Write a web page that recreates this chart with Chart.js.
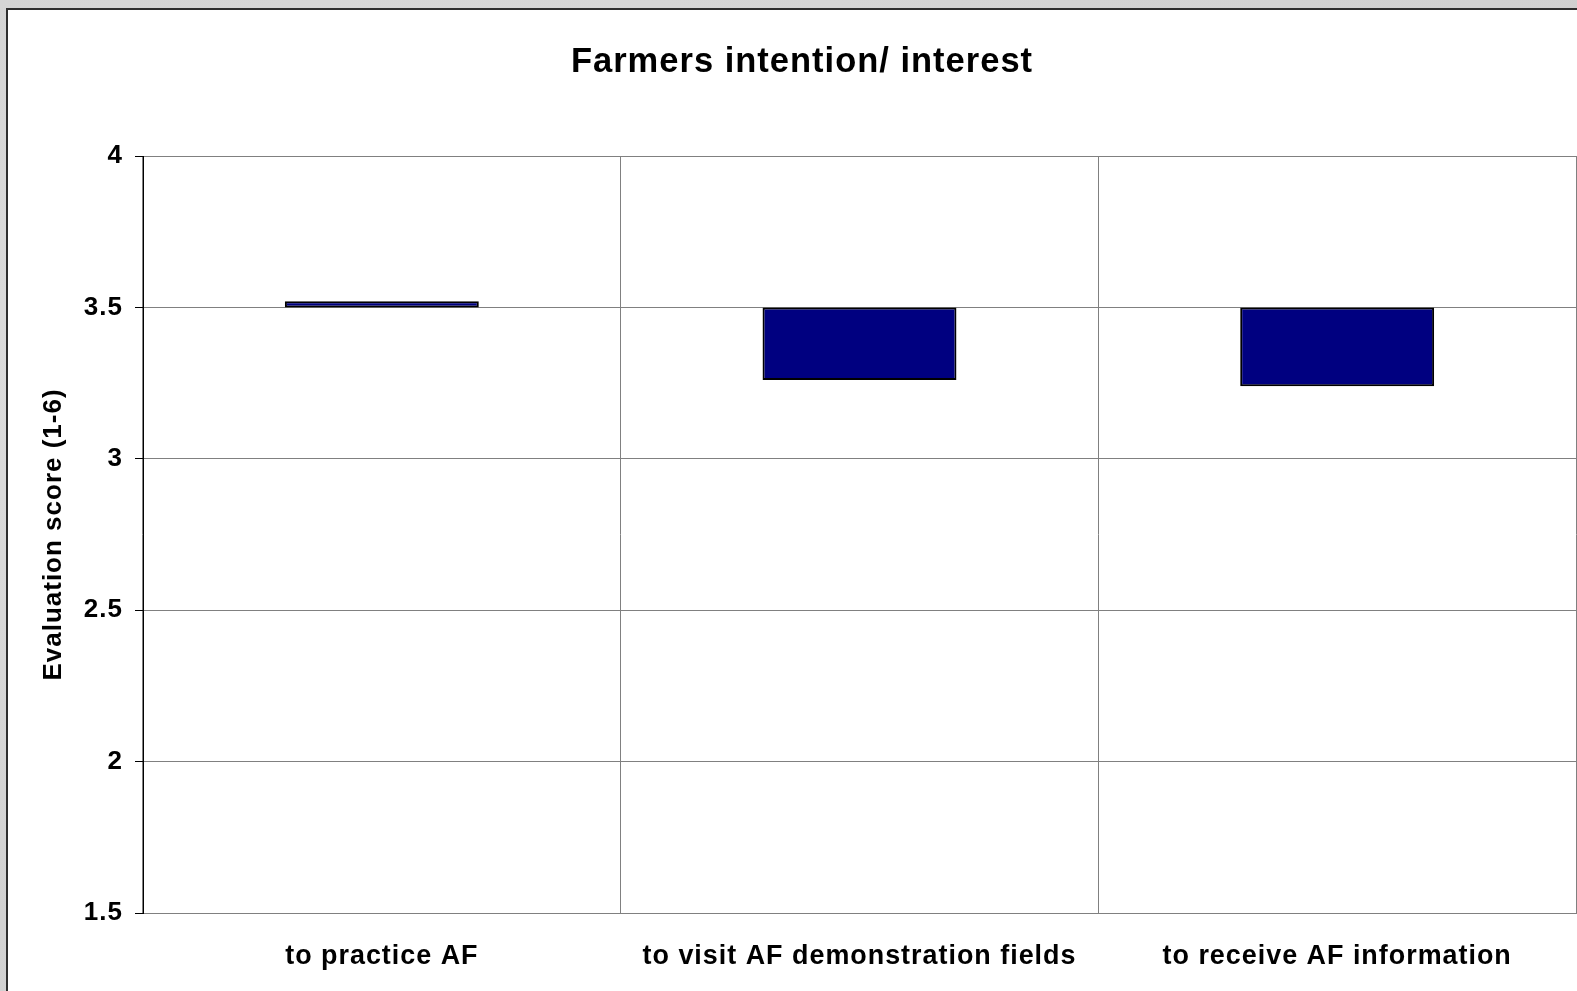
<!DOCTYPE html>
<html>
<head>
<meta charset="utf-8">
<script src="https://cdn.jsdelivr.net/npm/chart.js@4.4.1/dist/chart.umd.min.js"></script>
<style>
  html, body { margin: 0; padding: 0; width: 1577px; height: 991px; overflow: hidden; }
  body {
    background: #d6d6d6;
    background-image: radial-gradient(ellipse at 30% 40%, #e2e2e2 0%, #d3d3d3 60%, #cfcfcf 100%);
    position: relative;
  }
  .panel {
    position: absolute; left: 6px; top: 8px; width: 1700px; height: 1100px;
    background: #ffffff; border-left: 2px solid #2e2e2e; border-top: 2px solid #2e2e2e;
  }
  #chart { position: absolute; left: 0; top: 0; }
</style>
</head>
<body>
<div class="panel"></div>
<canvas id="chart" width="1604" height="991"></canvas>
<script>
// Survey answers: mean evaluation score per statement, drawn as bars
// hanging from the scale midpoint.
const categories = ['to practice AF', 'to visit AF demonstration fields', 'to receive AF information'];
const baseline = 3.5;
const scores = [3.52, 3.26, 3.24];
const yTicks = [1.5, 2, 2.5, 3, 3.5, 4];

const FONT = '"Liberation Sans", Arial, sans-serif';

// Slightly wider character spacing for all chart text.
const spacing = {
  id: 'spacing',
  beforeUpdate(c) { c.ctx.letterSpacing = '1px'; },
  beforeLayout(c) { c.ctx.letterSpacing = '1px'; },
  beforeDraw(c) { c.ctx.letterSpacing = '1px'; }
};

new Chart(document.getElementById('chart'), {
  type: 'bar',
  data: {
    labels: categories,
    datasets: [{
      data: scores.map(v => [baseline, v]),
      backgroundColor: '#000080',
      borderColor: '#000000',
      borderWidth: 2,
      borderSkipped: false,
      barPercentage: 0.406,
      categoryPercentage: 1.0
    }]
  },
  options: {
    responsive: false,
    devicePixelRatio: 1,
    animation: false,
    layout: { padding: { left: 28, right: 28, top: 0, bottom: 0 } },
    plugins: {
      legend: { display: false },
      tooltip: { enabled: false },
      title: {
        display: true,
        text: 'Farmers intention/ interest',
        color: '#000',
        font: { family: FONT, size: 34.5, weight: 'bold', lineHeight: 1.2 },
        padding: { top: 41.8, bottom: 72.8 }
      }
    },
    scales: {
      x: {
        offset: true,
        grid: { offset: true, color: '#808080', lineWidth: 1, drawTicks: false },
        border: { color: '#808080', width: 1 },
        ticks: {
          color: '#000',
          padding: 27,
          maxRotation: 0,
          autoSkip: false,
          font: { family: FONT, size: 26.9, weight: 'bold', lineHeight: 1.2 }
        },
        afterFit(s) { s.height = 78; }
      },
      y: {
        min: 1.5,
        max: 4,
        afterBuildTicks(s) { s.ticks = yTicks.map(v => ({ value: v })); },
        grid: { color: '#808080', lineWidth: 1, tickLength: 8, tickColor: '#000' },
        border: { color: '#000', width: 1 },
        ticks: {
          color: '#000',
          padding: 12,
          font: { family: FONT, size: 26, weight: 'bold', lineHeight: 1.2 },
          callback: v => String(v)
        },
        title: {
          display: true,
          text: 'Evaluation score (1-6)',
          color: '#000',
          font: { family: FONT, size: 26, weight: 'bold', lineHeight: 1.2 },
          padding: { top: 10.4, bottom: 0 }
        },
        afterFit(s) { s.width = 115; }
      }
    }
  },
  plugins: [spacing]
});
</script>
</body>
</html>
